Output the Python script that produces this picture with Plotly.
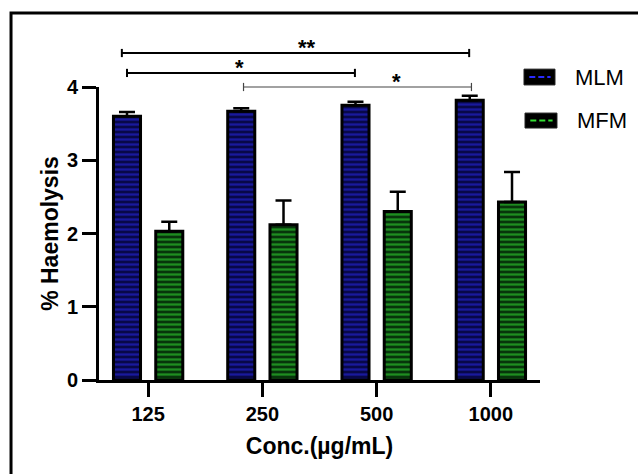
import plotly.graph_objects as go

categories = ["125", "250", "500", "1000"]
mlm = [3.60, 3.67, 3.75, 3.82]
mlm_err = [0.06, 0.04, 0.05, 0.06]
mfm = [2.03, 2.12, 2.30, 2.43]
mfm_err = [0.13, 0.33, 0.27, 0.41]
series_names = ["MLM", "MFM"]
y_ticks = [0, 1, 2, 3, 4]

FONT = "Liberation Sans, Arial, sans-serif"

fig = go.Figure()
fig.add_trace(go.Bar(
    x=categories, y=mlm, name=series_names[0],
    marker=dict(color="#08084a", line=dict(color="black", width=3),
                pattern=dict(shape="-", fgcolor="#2a2af0", bgcolor="#08084a", size=5, solidity=0.45)),
    error_y=dict(type="data", array=mlm_err, arrayminus=[0] * 4, symmetric=False,
                 color="black", thickness=2.5, width=8),
    showlegend=False,
))
fig.add_trace(go.Bar(
    x=categories, y=mfm, name=series_names[1],
    marker=dict(color="#07360b", line=dict(color="black", width=3),
                pattern=dict(shape="-", fgcolor="#36e636", bgcolor="#07360b", size=5, solidity=0.45)),
    error_y=dict(type="data", array=mfm_err, arrayminus=[0] * 4, symmetric=False,
                 color="black", thickness=2.5, width=8),
    showlegend=False,
))

shapes = []
annotations = []

# outer frame (clipped on right/bottom like the reference)
shapes.append(dict(type="rect", xref="paper", yref="paper", x0=-0.1995, x1=1.35,
                   y0=-0.5, y1=1.2526, line=dict(color="black", width=3), layer="below"))

# significance brackets
brackets = [
    (-0.23, 2.81, 1.116, 1.39, 1.116, "**", 2, "black"),
    (-0.185, 1.81, 1.048, 0.80, 1.048, "*", 2, "black"),
    (0.835, 2.83, 1.0, 2.17, 1.0, "*", 1.2, "#444444"),
]
for x0, x1, yb, xs, ys, txt, lw, col in brackets:
    shapes.append(dict(type="line", xref="x", yref="paper", x0=x0, x1=x1, y0=yb, y1=yb,
                       line=dict(color=col, width=lw)))
    for xe in (x0, x1):
        shapes.append(dict(type="line", xref="x", yref="paper", x0=xe, x1=xe,
                           y0=yb - 0.014, y1=yb + 0.014, line=dict(color=col, width=lw)))
    annotations.append(dict(xref="x", yref="paper", x=xs, y=ys, text=txt, showarrow=False,
                            yanchor="bottom", yshift=-9,
                            font=dict(family=FONT, size=22, color="black", weight="bold")))

# legend
legend_items = [
    (series_names[0], "#2a2aff", 0.9637, 1.034, 1.007, 1.061, 1.075, 1.034),
    (series_names[1], "#33dd33", 0.966, 1.0385, 0.860, 0.911, 1.079, 0.884),
]
for name, col, lx0, lx1, ly0, ly1, tx, ty in legend_items:
    shapes.append(dict(type="rect", xref="paper", yref="paper", x0=lx0, x1=lx1, y0=ly0, y1=ly1,
                       fillcolor="black", line=dict(color="#222222", width=1)))
    shapes.append(dict(type="line", xref="paper", yref="paper", x0=lx0 + 0.012, x1=lx1 - 0.010,
                       y0=(ly0 + ly1) / 2, y1=(ly0 + ly1) / 2,
                       line=dict(color=col, width=2, dash="6px,3px")))
    annotations.append(dict(xref="paper", yref="paper", x=tx, y=ty, text=name, showarrow=False,
                            xanchor="left", yanchor="middle",
                            font=dict(family=FONT, size=22, color="black")))

fig.update_layout(
    width=638, height=474, autosize=False,
    margin=dict(l=99, r=98, t=87, b=94),
    paper_bgcolor="white", plot_bgcolor="white",
    barmode="group", bargap=0.26, bargroupgap=0.36,
    font=dict(family=FONT, color="black"),
    shapes=shapes, annotations=annotations,
    showlegend=False,
)
fig.update_xaxes(
    type="category", range=[-0.43, 3.43],
    showline=True, linecolor="black", linewidth=3,
    ticks="outside", ticklen=14, tickwidth=3, tickcolor="black",
    tickfont=dict(family=FONT, size=20, color="black", weight="bold"),
    showgrid=False, zeroline=False,
    title=dict(text="Conc.(µg/mL)", standoff=14,
               font=dict(family=FONT, size=23, color="black", weight="bold")),
)
fig.update_yaxes(
    range=[0, 4], tickvals=y_ticks,
    showline=True, linecolor="black", linewidth=3,
    ticks="outside", ticklen=14, tickwidth=3, tickcolor="black",
    tickfont=dict(family=FONT, size=20, color="black", weight="bold"),
    showgrid=False, zeroline=False,
    title=dict(text="% Haemolysis", standoff=2,
               font=dict(family=FONT, size=23, color="black", weight="bold")),
)

fig.write_html("out.html", config={"displayModeBar": False},
               post_script="document.body.style.margin='0';document.body.style.overflow='hidden';")
